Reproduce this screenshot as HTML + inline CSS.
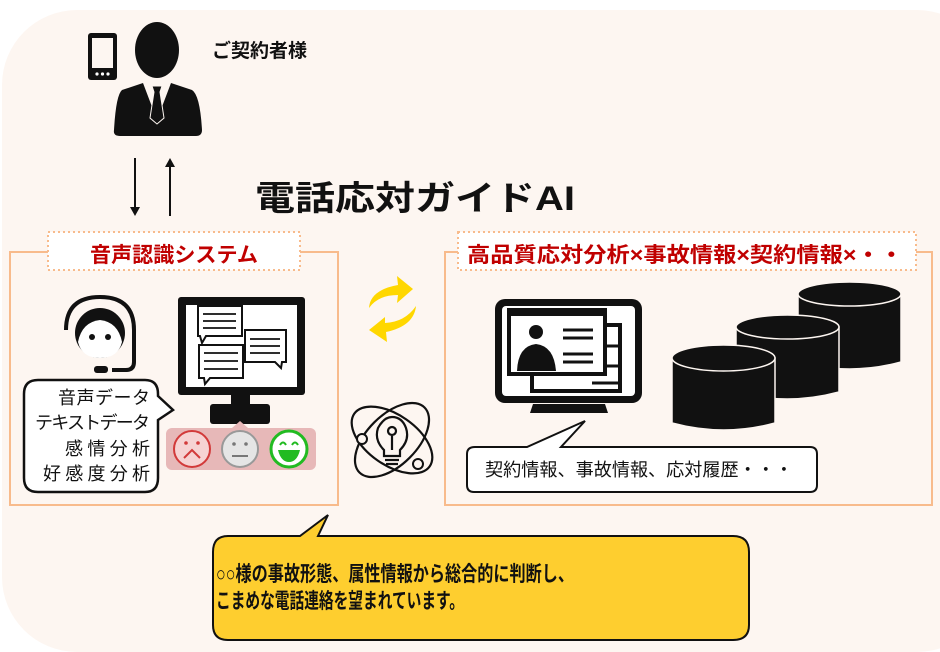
<!DOCTYPE html>
<html><head><meta charset="utf-8"><style>
html,body{margin:0;padding:0;background:#fff;}
svg{display:block;}
text{font-family:"Liberation Sans","Noto Sans CJK JP",sans-serif;}
</style></head><body>
<svg width="940" height="652" viewBox="0 0 940 652" xmlns="http://www.w3.org/2000/svg">
<rect x="2" y="10" width="990" height="642" rx="75" fill="#fdf6f1"/>
<!-- top person -->
<rect x="88" y="33" width="29" height="47" rx="3" fill="#111"/>
<rect x="92" y="38" width="21" height="30" fill="#fdf6f1"/>
<circle cx="97" cy="74" r="1.6" fill="#fff"/><circle cx="102.5" cy="74" r="1.6" fill="#fff"/><circle cx="108" cy="74" r="1.6" fill="#fff"/>
<ellipse cx="157" cy="50" rx="22" ry="28" fill="#111"/>
<path d="M122 90 L143 83 L157 120 L171 83 L192 90 Q200 95 202 130 Q202 136 196 136 L120 136 Q113 136 114 130 Q116 95 122 90Z" fill="#111"/>
<path d="M152 86 L162 86 L160 92 L164 118 L157 124 L150 118 L154 92Z" fill="#111" stroke="#fdf6f1" stroke-width="1"/>
<text x="212" y="57" font-size="19" font-weight="bold" fill="#111">ご契約者様</text>
<line x1="135" y1="158" x2="135" y2="208" stroke="#111" stroke-width="2"/><path d="M130 207 L140 207 L135 216Z" fill="#111"/>
<line x1="170" y1="166" x2="170" y2="216" stroke="#111" stroke-width="2"/><path d="M165 167 L175 167 L170 158Z" fill="#111"/>
<text x="255" y="210" font-size="34" font-weight="bold" fill="#111" textLength="320" lengthAdjust="spacingAndGlyphs">電話応対ガイドAI</text>
<!-- left box -->
<rect x="10" y="252" width="328" height="253" fill="none" stroke="#f8bb8c" stroke-width="2"/>
<rect x="48" y="232" width="252" height="38" fill="#fff" stroke="#f8bb8c" stroke-width="2" stroke-dasharray="2,3"/>
<text x="90" y="262" font-size="21" font-weight="bold" fill="#c00000" textLength="168" lengthAdjust="spacingAndGlyphs">音声認識システム</text>
<!-- headset woman -->
<path d="M66 330 Q66 297 100 297 Q134 297 134 330 L134 362 Q134 370 126 370 L112 370" fill="none" stroke="#111" stroke-width="4"/>
<circle cx="100" cy="333" r="25" fill="#111"/>
<path d="M78 342 Q82 322 100 320 Q118 322 122 342 Q118 358 100 358 Q82 358 78 342Z" fill="#fff"/>
<circle cx="92" cy="337" r="3" fill="#111"/><circle cx="108" cy="337" r="3" fill="#111"/>
<rect x="94" y="366" width="14" height="7" rx="3" fill="#111"/>
<!-- speech bubble -->
<path d="M38 380 L145 380 Q158 380 158 394 L158 396 L173 410 L158 420 L158 478 Q158 492 145 492 L38 492 Q24 492 24 478 L24 394 Q24 380 38 380Z" fill="#fff" stroke="#111" stroke-width="2.5"/>
<g font-size="18" fill="#111" lengthAdjust="spacingAndGlyphs">
<text x="58" y="404" textLength="92">音声データ</text>
<text x="35" y="429" textLength="115">テキストデータ</text>
<text x="65" y="455" textLength="85">感情分析</text>
<text x="43" y="480" textLength="107">好感度分析</text>
</g>
<!-- monitor -->
<rect x="178" y="297" width="127" height="98" rx="3" fill="#111"/>
<rect x="186" y="305" width="111" height="82" fill="#fff"/>
<g fill="#fff" stroke="#111" stroke-width="2">
<path d="M198 306 L242 306 L242 336 L206 336 L202 343 L200 336 L198 336Z"/>
<path d="M245 330 L286 330 L286 362 L282 362 L281 368 L275 362 L245 362Z"/>
<path d="M199 345 L243 345 L243 378 L210 378 L205 384 L204 378 L199 378Z"/>
</g>
<g stroke="#111" stroke-width="1.8">
<line x1="203" y1="314" x2="236" y2="314"/><line x1="203" y1="321" x2="236" y2="321"/><line x1="203" y1="328" x2="236" y2="328"/>
<line x1="250" y1="339" x2="280" y2="339"/><line x1="250" y1="346" x2="280" y2="346"/><line x1="250" y1="353" x2="280" y2="353"/>
<line x1="204" y1="353" x2="238" y2="353"/><line x1="204" y1="361" x2="238" y2="361"/><line x1="204" y1="369" x2="238" y2="369"/>
</g>
<rect x="231" y="394" width="19" height="12" fill="#111"/>
<rect x="210" y="404" width="60" height="20" rx="3" fill="#111"/>
<rect x="166" y="428" width="150" height="42" rx="6" fill="#e7b8b8"/>
<path d="M232 428 L240 421 L248 428Z" fill="#e7b8b8"/>
<circle cx="192" cy="449" r="18" fill="#f6d3d3" stroke="#d23a3a" stroke-width="2"/>
<circle cx="186" cy="443" r="1.8" fill="#d23a3a"/><circle cx="198" cy="443" r="1.8" fill="#d23a3a"/>
<path d="M184 458 L192 450 L200 458" fill="none" stroke="#d23a3a" stroke-width="2"/>
<circle cx="240" cy="449" r="18" fill="#e5e5e5" stroke="#999" stroke-width="2"/>
<circle cx="234" cy="444" r="1.8" fill="#777"/><circle cx="246" cy="444" r="1.8" fill="#777"/>
<line x1="232" y1="456" x2="248" y2="456" stroke="#777" stroke-width="2"/>
<circle cx="289" cy="449" r="18" fill="#fff" stroke="#22bb22" stroke-width="3"/>
<path d="M280 445 Q283 440 286 445 M292 445 Q295 440 298 445" fill="none" stroke="#22bb22" stroke-width="2"/>
<path d="M278 450 L300 450 Q297 462 289 462 Q281 462 278 450Z" fill="#22bb22"/>
<!-- refresh arrows -->
<path d="M369 308 Q370 290 398 285 L397 276 L413 289 L397 303 L398 295 Q378 295 369 308Z" fill="#ffd700"/>
<path d="M416 306 Q414 326 386 332 L387 342 L369 330 L385 317 L385 323 Q405 322 416 306Z" fill="#ffd700"/>
<!-- atom -->
<g fill="none" stroke="#111" stroke-width="2.2">
<ellipse cx="392" cy="440" rx="46" ry="25" transform="rotate(35 392 440)"/>
<ellipse cx="392" cy="440" rx="46" ry="25" transform="rotate(-45 392 440)"/>
<path d="M384 450 Q374 440 378 428 Q384 417 392 417 Q402 417 406 428 Q410 440 400 450 L400 456 L384 456Z" fill="#fdf6f1"/>
<line x1="392" y1="436" x2="392" y2="450"/>
<circle cx="392" cy="431" r="4"/>
<line x1="385" y1="460" x2="399" y2="460"/><line x1="386" y1="464" x2="398" y2="464"/>
</g>
<circle cx="362" cy="439" r="5" fill="#fdf6f1" stroke="#111" stroke-width="2"/>
<circle cx="418" cy="464" r="5" fill="#fdf6f1" stroke="#111" stroke-width="2"/>
<!-- right box -->
<rect x="445" y="252" width="487" height="253" fill="none" stroke="#f8bb8c" stroke-width="2"/>
<rect x="458" y="232" width="458" height="38" fill="#fff" stroke="#f8bb8c" stroke-width="2" stroke-dasharray="2,3"/>
<text x="467" y="262" font-size="21" font-weight="bold" fill="#c00000" textLength="436" lengthAdjust="spacingAndGlyphs">高品質応対分析×事故情報×契約情報×・・</text>
<!-- right monitor -->
<rect x="495" y="299" width="147" height="104" rx="10" fill="#111"/>
<rect x="502" y="306" width="133" height="90" rx="4" fill="#fff"/>
<rect x="530" y="323" width="92" height="70" fill="#111"/>
<rect x="534" y="327" width="84" height="62" fill="#fff"/>
<rect x="507" y="308" width="100" height="68" fill="#111"/>
<rect x="511" y="316" width="92" height="56" fill="#fff"/>
<circle cx="536" cy="332" r="7" fill="#111"/>
<path d="M517 371 Q518 346 536 344 Q554 346 556 371Z" fill="#111"/>
<g stroke="#111" stroke-width="3"><line x1="563" y1="330" x2="593" y2="330"/><line x1="563" y1="338" x2="593" y2="338"/><line x1="563" y1="354" x2="593" y2="354"/><line x1="563" y1="362" x2="593" y2="362"/>
<line x1="605" y1="346" x2="618" y2="346"/><line x1="605" y1="366" x2="618" y2="366"/><line x1="592" y1="383" x2="618" y2="383"/></g>
<path d="M533 404 L605 404 L608 413 L530 413Z" fill="#111"/>
<!-- cylinders -->
<g stroke="#fdf6f1" stroke-width="1.5">
<path d="M798 294 L798 362 Q850 376 901 362 L901 294Z" fill="#111"/><ellipse cx="849.5" cy="294" rx="51.5" ry="12" fill="#111"/>
<path d="M736 327 L736 392 Q787 406 839 392 L839 327Z" fill="#111"/><ellipse cx="787.5" cy="327" rx="51.5" ry="12" fill="#111"/>
<path d="M672 358 L672 423 Q724 437 775 423 L775 358Z" fill="#111"/><ellipse cx="723.5" cy="358" rx="51.5" ry="13" fill="#111"/>
</g>
<!-- right bubble -->
<path d="M475 447 L527 447 L585 421 L561 447 L810 447 Q817 447 817 454 L817 485 Q817 492 810 492 L474 492 Q467 492 467 485 L467 454 Q467 447 475 447Z" fill="#fff" stroke="#111" stroke-width="2"/>
<text x="485" y="476" font-size="18" fill="#111" textLength="308" lengthAdjust="spacingAndGlyphs">契約情報、事故情報、応対履歴・・・</text>
<!-- yellow callout -->
<path d="M228 536 L300 536 L328 515 L318 536 L733 536 Q749 536 749 552 L749 625 Q749 640 733 640 L228 640 Q213 640 213 625 L213 552 Q213 536 228 536Z" fill="#fece2f" stroke="#111" stroke-width="2"/>
<text x="216" y="581" font-size="21" font-weight="bold" fill="#111" textLength="358" lengthAdjust="spacingAndGlyphs">○○様の事故形態、属性情報から総合的に判断し、</text>
<text x="216" y="608" font-size="21" font-weight="bold" fill="#111" textLength="248" lengthAdjust="spacingAndGlyphs">こまめな電話連絡を望まれています。</text>
</svg>
</body></html>
